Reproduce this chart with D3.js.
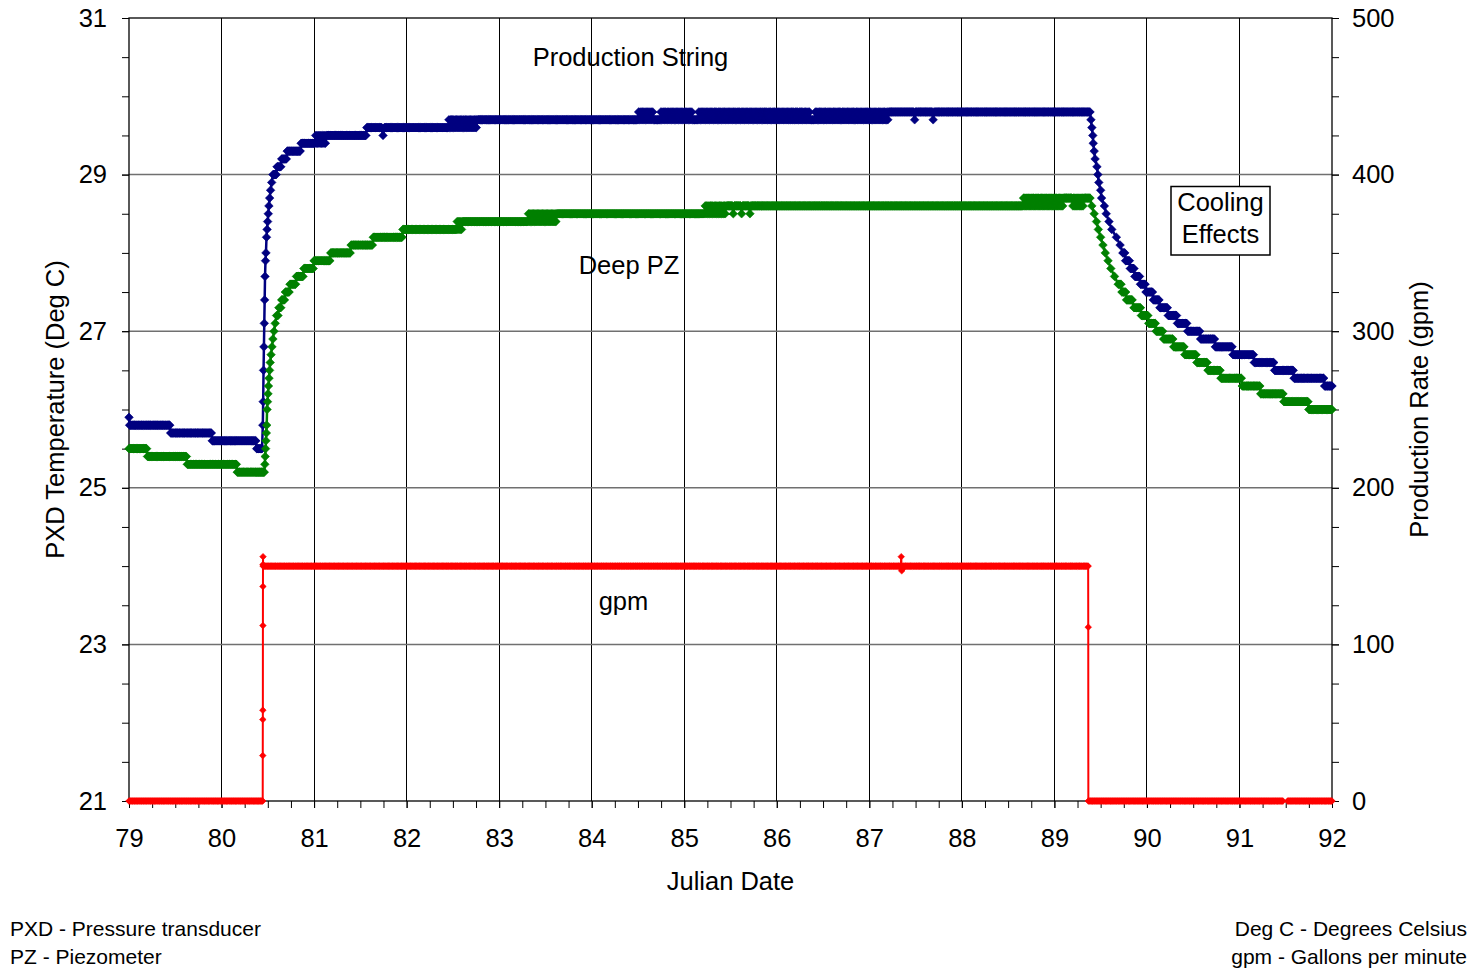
<!DOCTYPE html>
<html>
<head>
<meta charset="utf-8">
<script src="https://cdn.jsdelivr.net/npm/d3@7"></script>
<style>
  html, body { margin: 0; padding: 0; background: #fff; }
  svg { display: block; }
  text { font-family: "Liberation Sans", Arial, sans-serif; fill: #000; }
</style>
</head>
<body>
<svg id="chart" width="1476" height="969"></svg>
<script>
// ---- Data ------------------------------------------------------------
// Axis tick labels
const dayTicks  = [79, 80, 81, 82, 83, 84, 85, 86, 87, 88, 89, 90, 91, 92];
const tempTicks = [21, 23, 25, 27, 29, 31];
const rateTicks = [0, 100, 200, 300, 400, 500];

// Logger readings. A row is either a single reading [day, value],
// a steady stretch [fromDay, toDay, value], or a stretch where the
// logger toggled between two adjacent readings [fromDay, toDay, low, high].
const productionString = [
  [79.000, 25.9],
  [79.007, 79.44, 25.8],
  [79.45, 79.89, 25.7],
  [79.90, 80.37, 25.6],
  [80.38, 80.43, 25.5],
  [80.438, 25.5], [80.446, 25.8], [80.450, 26.1], [80.454, 26.5],
  [80.458, 26.8], [80.462, 27.1], [80.466, 27.4], [80.470, 27.7],
  [80.475, 27.9], [80.480, 28.0], [80.486, 28.2], [80.492, 28.3],
  [80.498, 28.4], [80.505, 28.5], [80.512, 28.6], [80.520, 28.7],
  [80.530, 28.8], [80.542, 28.9],
  [80.556, 80.59, 29.0],
  [80.60, 80.64, 29.1],
  [80.65, 80.70, 29.2],
  [80.71, 80.85, 29.3],
  [80.86, 81.00, 29.4],
  [81.01, 81.13, 29.4, 29.5],
  [81.14, 81.56, 29.5],
  [81.57, 81.73, 29.6],
  [81.745, 29.5],
  [81.76, 82.44, 29.6],
  [82.45, 82.76, 29.6, 29.7],
  [82.77, 84.49, 29.7],
  [84.50, 84.66, 29.7, 29.8],
  [84.67, 84.73, 29.7],
  [84.74, 85.09, 29.7, 29.8],
  [85.10, 85.14, 29.7],
  [85.15, 86.36, 29.7, 29.8],
  [86.37, 86.40, 29.7],
  [86.41, 87.20, 29.7, 29.8],
  [87.21, 87.48, 29.8],
  [87.49, 29.7],
  [87.50, 87.68, 29.8],
  [87.69, 29.7],
  [87.70, 89.385, 29.8],
  [89.395, 29.7], [89.405, 29.6], [89.415, 29.5], [89.42, 29.4],
  [89.43, 29.3], [89.44, 29.2], [89.46, 29.1], [89.47, 29.0],
  [89.48, 28.9], [89.50, 28.8], [89.51, 28.7], [89.54, 28.6],
  [89.56, 28.5], [89.59, 28.4], [89.62, 28.3], [89.67, 28.2],
  [89.71, 28.1],
  [89.74, 89.76, 28.0],
  [89.77, 89.81, 27.9],
  [89.82, 89.86, 27.8],
  [89.87, 89.92, 27.7],
  [89.93, 89.98, 27.6],
  [89.99, 90.06, 27.5],
  [90.07, 90.13, 27.4],
  [90.14, 90.22, 27.3],
  [90.23, 90.32, 27.2],
  [90.33, 90.43, 27.1],
  [90.44, 90.57, 27.0],
  [90.58, 90.73, 26.9],
  [90.74, 90.92, 26.8],
  [90.93, 91.15, 26.7],
  [91.16, 91.37, 26.6],
  [91.38, 91.58, 26.5],
  [91.59, 91.91, 26.4],
  [91.92, 92.00, 26.3]
];

const deepPZ = [
  [79.00, 79.19, 25.5],
  [79.20, 79.62, 25.4],
  [79.63, 80.16, 25.3],
  [80.17, 80.462, 25.2],
  [80.468, 25.3], [80.472, 25.4], [80.476, 25.5], [80.480, 25.6],
  [80.484, 25.7], [80.488, 25.8], [80.492, 26.0], [80.497, 26.1],
  [80.502, 26.2], [80.507, 26.3], [80.513, 26.4], [80.519, 26.5],
  [80.526, 26.6], [80.535, 26.7], [80.545, 26.8], [80.555, 26.9],
  [80.567, 27.0], [80.580, 27.1],
  [80.595, 80.61, 27.2],
  [80.62, 80.64, 27.3],
  [80.65, 80.68, 27.4],
  [80.69, 80.73, 27.5],
  [80.74, 80.80, 27.6],
  [80.81, 80.88, 27.7],
  [80.89, 80.99, 27.8],
  [81.00, 81.17, 27.9],
  [81.18, 81.39, 28.0],
  [81.40, 81.63, 28.1],
  [81.64, 81.95, 28.2],
  [81.96, 82.53, 28.3],
  [82.54, 82.60, 28.3, 28.4],
  [82.61, 83.30, 28.4],
  [83.31, 83.62, 28.4, 28.5],
  [83.63, 85.21, 28.5],
  [85.22, 85.45, 28.5, 28.6],
  [85.46, 85.52, 28.6],
  [85.53, 28.5],
  [85.54, 85.61, 28.6],
  [85.62, 28.5],
  [85.63, 85.70, 28.6],
  [85.71, 28.5],
  [85.72, 88.65, 28.6],
  [88.66, 89.09, 28.6, 28.7],
  [89.10, 89.19, 28.7],
  [89.20, 89.31, 28.6, 28.7],
  [89.32, 89.385, 28.7],
  [89.405, 28.6], [89.43, 28.5], [89.455, 28.4], [89.475, 28.3],
  [89.50, 28.2], [89.525, 28.1], [89.55, 28.0], [89.58, 27.9],
  [89.61, 27.8], [89.65, 27.7],
  [89.69, 89.72, 27.6],
  [89.73, 89.77, 27.5],
  [89.78, 89.84, 27.4],
  [89.86, 89.93, 27.3],
  [89.94, 90.01, 27.2],
  [90.02, 90.09, 27.1],
  [90.10, 90.17, 27.0],
  [90.18, 90.28, 26.9],
  [90.29, 90.40, 26.8],
  [90.41, 90.53, 26.7],
  [90.54, 90.65, 26.6],
  [90.66, 90.79, 26.5],
  [90.80, 91.02, 26.4],
  [91.03, 91.22, 26.3],
  [91.23, 91.47, 26.2],
  [91.48, 91.74, 26.1],
  [91.75, 92.00, 26.0]
];

const pumpRate = [
  [79.00, 80.445, 0],
  [80.4455, 29], [80.446, 52], [80.4465, 58], [80.447, 112],
  [80.4475, 137], [80.448, 151], [80.4485, 156],
  [80.449, 87.34, 150],
  [87.345, 156], [87.350, 147], [87.355, 148],
  [87.36, 89.365, 150],
  [89.366, 111],
  [89.367, 91.47, 0],
  [91.52, 92.00, 0]
];

// ---- Layout ----------------------------------------------------------
const W = 1476, H = 969;
const plot = { left: 129, right: 1332, top: 18, bottom: 801 };
const LOG_STEP = 1 / 144;   // logger cadence: one reading every 10 minutes

const svg = d3.select("#chart");
svg.append("rect").attr("width", W).attr("height", H).attr("fill", "#fff");

const x  = d3.scaleLinear().domain([79, 92]).range([plot.left, plot.right]);
const yT = d3.scaleLinear().domain([21, 31]).range([plot.bottom, plot.top]);
const yR = d3.scaleLinear().domain([0, 500]).range([plot.bottom, plot.top]);

// Expand the logger rows into individual readings
function readings(rows) {
  const out = [];
  rows.forEach(r => {
    if (r.length === 2) { out.push([r[0], r[1]]); return; }
    const [a, b, v, alt] = r;
    const n = Math.max(1, Math.round((b - a) / LOG_STEP));
    for (let i = 0; i <= n; i++) {
      const val = (alt !== undefined && i % 2 === 1) ? alt : v;
      out.push([a + (b - a) * i / n, val]);
    }
  });
  return out;
}

// ---- Grid --------------------------------------------------------------
const grid = svg.append("g");
grid.selectAll("line.v")
  .data(dayTicks.filter(d => d > 79 && d < 92))
  .join("line")
  .attr("x1", d => x(d)).attr("x2", d => x(d))
  .attr("y1", plot.top).attr("y2", plot.bottom)
  .attr("stroke", "#000").attr("stroke-width", 1)
  .attr("shape-rendering", "crispEdges");
grid.selectAll("line.h")
  .data(tempTicks.filter(d => d > 21 && d < 31))
  .join("line")
  .attr("x1", plot.left).attr("x2", plot.right)
  .attr("y1", d => yT(d)).attr("y2", d => yT(d))
  .attr("stroke", "#707070").attr("stroke-width", 1.5);

// ---- Axes --------------------------------------------------------------
const FS = 25.5;
function styleAxis(g) {
  g.select(".domain").remove();
  g.selectAll(".tick line").attr("stroke", "#000").attr("stroke-width", 1);
  g.selectAll(".tick text").attr("font-size", FS).attr("font-family", "Liberation Sans, Arial, sans-serif");
}

const minorDays  = d3.range(79, 92.001, 0.25);
const minorTemps = d3.range(21, 31.001, 0.5);
const minorRates = d3.range(0, 500.001, 25);

svg.append("g").attr("transform", `translate(0,${plot.bottom})`)
  .call(d3.axisBottom(x).tickValues(minorDays).tickSize(7).tickFormat(""))
  .call(styleAxis);
svg.append("g").attr("transform", `translate(0,${plot.bottom})`)
  .call(d3.axisBottom(x).tickValues(dayTicks).tickSize(7).tickPadding(21).tickFormat(d3.format("d")))
  .call(styleAxis);

svg.append("g").attr("transform", `translate(${plot.left},0)`)
  .call(d3.axisLeft(yT).tickValues(minorTemps).tickSize(7).tickFormat(""))
  .call(styleAxis);
svg.append("g").attr("transform", `translate(${plot.left},0)`)
  .call(d3.axisLeft(yT).tickValues(tempTicks).tickSize(7).tickPadding(15).tickFormat(d3.format("d")))
  .call(styleAxis);

svg.append("g").attr("transform", `translate(${plot.right},0)`)
  .call(d3.axisRight(yR).tickValues(minorRates).tickSize(7).tickFormat(""))
  .call(styleAxis);
svg.append("g").attr("transform", `translate(${plot.right},0)`)
  .call(d3.axisRight(yR).tickValues(rateTicks).tickSize(7).tickPadding(13).tickFormat(d3.format("d")))
  .call(styleAxis);

// Plot frame
svg.append("rect")
  .attr("x", plot.left).attr("y", plot.top)
  .attr("width", plot.right - plot.left).attr("height", plot.bottom - plot.top)
  .attr("fill", "none").attr("stroke", "#000").attr("stroke-width", 1.3);

// ---- Series ------------------------------------------------------------
function diamonds(pts, xs, ys, r) {
  let p = "";
  pts.forEach(d => {
    const px = xs(d[0]), py = ys(d[1]);
    p += `M${px.toFixed(2)},${(py - r).toFixed(2)}L${(px + r).toFixed(2)},${py.toFixed(2)}` +
         `L${px.toFixed(2)},${(py + r).toFixed(2)}L${(px - r).toFixed(2)},${py.toFixed(2)}Z`;
  });
  return p;
}

function drawSeries(rows, ys, color, lineW, r) {
  const pts = readings(rows);
  const g = svg.append("g");
  g.append("path")
    .attr("d", d3.line().x(d => x(d[0])).y(d => ys(d[1]))(pts))
    .attr("fill", "none").attr("stroke", color).attr("stroke-width", lineW)
    .attr("stroke-linejoin", "round");
  g.append("path")
    .attr("d", diamonds(pts, x, ys, r))
    .attr("fill", color).attr("stroke", color).attr("stroke-width", 0.6);
}

drawSeries(productionString, yT, "#000080", 2.5, 4.3);
drawSeries(deepPZ, yT, "#008000", 2.5, 4.3);
drawSeries(pumpRate, yR, "#ff0000", 2, 3.3);

// ---- Annotations -------------------------------------------------------
svg.append("text").attr("x", 630.5).attr("y", 65.5)
  .attr("text-anchor", "middle").attr("font-size", FS).text("Production String");
svg.append("text").attr("x", 629).attr("y", 274)
  .attr("text-anchor", "middle").attr("font-size", FS).text("Deep PZ");
svg.append("text").attr("x", 623.5).attr("y", 610)
  .attr("text-anchor", "middle").attr("font-size", FS).text("gpm");

svg.append("rect")
  .attr("x", 1171).attr("y", 186.5).attr("width", 99).attr("height", 68.5)
  .attr("fill", "#fff").attr("stroke", "#000").attr("stroke-width", 1.5);
svg.append("text").attr("x", 1220.5).attr("y", 210.5)
  .attr("text-anchor", "middle").attr("font-size", FS).text("Cooling");
svg.append("text").attr("x", 1220.5).attr("y", 242.5)
  .attr("text-anchor", "middle").attr("font-size", FS).text("Effects");

// Axis titles
svg.append("text").attr("x", (plot.left + plot.right) / 2).attr("y", 890)
  .attr("text-anchor", "middle").attr("font-size", FS).text("Julian Date");
svg.append("text")
  .attr("transform", `translate(64,${(plot.top + plot.bottom) / 2}) rotate(-90)`)
  .attr("text-anchor", "middle").attr("font-size", FS).text("PXD Temperature (Deg C)");
svg.append("text")
  .attr("transform", `translate(1428,${(plot.top + plot.bottom) / 2}) rotate(-90)`)
  .attr("text-anchor", "middle").attr("font-size", FS).text("Production Rate (gpm)");

// Abbreviation notes
const NFS = 21;
svg.append("text").attr("x", 10).attr("y", 936).attr("font-size", NFS).text("PXD - Pressure transducer");
svg.append("text").attr("x", 10).attr("y", 963.5).attr("font-size", NFS).text("PZ - Piezometer");
svg.append("text").attr("x", 1467).attr("y", 936).attr("text-anchor", "end").attr("font-size", NFS).text("Deg C - Degrees Celsius");
svg.append("text").attr("x", 1467).attr("y", 963.5).attr("text-anchor", "end").attr("font-size", NFS).text("gpm - Gallons per minute");
</script>
</body>
</html>
